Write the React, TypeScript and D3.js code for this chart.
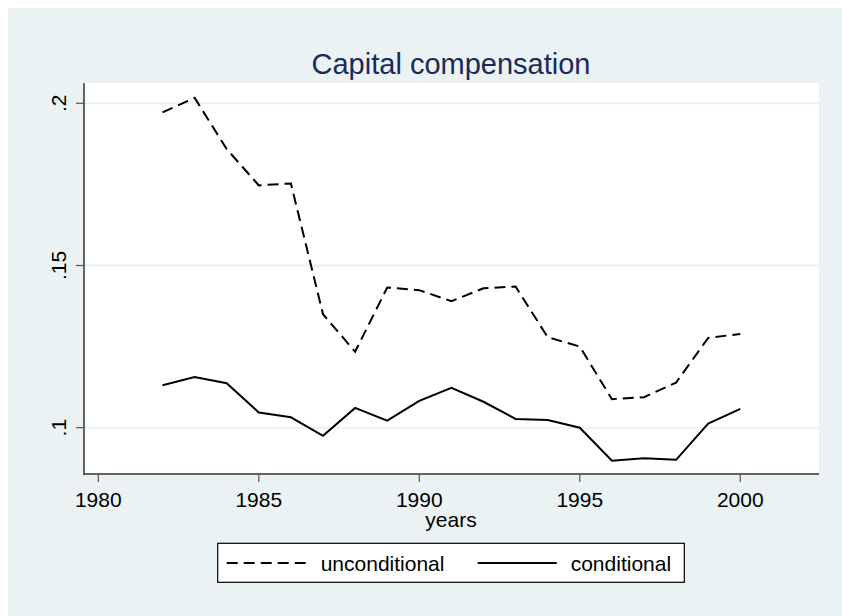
import React from 'react'
import * as d3 from 'd3'

// years on the x axis
const years = [1982, 1983, 1984, 1985, 1986, 1987, 1988, 1989, 1990, 1991,
	1992, 1993, 1994, 1995, 1996, 1997, 1998, 1999, 2000]

const unconditional = [0.1972, 0.2017, 0.1859, 0.1747, 0.1753, 0.1350, 0.1234,
	0.1432, 0.1424, 0.1390, 0.1430, 0.1435, 0.1279, 0.1250, 0.1088, 0.1094,
	0.1139, 0.1277, 0.1289]

const conditional = [0.1131, 0.1156, 0.1137, 0.1047, 0.1032, 0.0975, 0.1061,
	0.1022, 0.1083, 0.1123, 0.1080, 0.1027, 0.1024, 0.1000, 0.0898, 0.0906,
	0.0901, 0.1013, 0.1058]

const xTicks = [1980, 1985, 1990, 1995, 2000]
const yTicks = [0.1, 0.15, 0.2]
const yTickLabels = ['.1', '.15', '.2']

const FONT = 'Arial, "Liberation Sans", Helvetica, sans-serif'

export default function App() {
	const W = 842
	const H = 616
	const plot = { left: 84, right: 819, top: 83, bottom: 474 }

	const x = d3.scaleLinear().domain([1980, 2000]).range([98.3, 740.3])
	const y = d3.scaleLinear().domain([0.1, 0.2]).range([427.7, 103.3])

	const line = d3.line<number>()
		.x((_, i) => x(years[i]))
		.y(d => y(d))

	return (
		<svg width={W} height={H} style={{ position: 'fixed', left: 0, top: 0 }}
			fontFamily={FONT}>
			<rect x={0} y={0} width={W} height={H} fill="#ffffff" />
			<rect x={8} y={8} width={W - 8} height={H - 8} fill="#eaf2f3" />
			<rect x={plot.left} y={plot.top} width={plot.right - plot.left}
				height={plot.bottom - plot.top} fill="#ffffff" />

			{/* gridlines */}
			{yTicks.map(t => (
				<line key={t} x1={plot.left} x2={plot.right} y1={y(t)} y2={y(t)}
					stroke="#eaf2f3" strokeWidth={2} />
			))}

			{/* title */}
			<text x={451} y={74} textAnchor="middle" fontSize={29} fill="#1a2a5a">
				Capital compensation
			</text>

			{/* y axis */}
			<line x1={plot.left} x2={plot.left} y1={plot.top} y2={plot.bottom + 1}
				stroke="#333" strokeWidth={1.5} />
			{yTicks.map((t, i) => (
				<g key={t}>
					<line x1={plot.left - 8} x2={plot.left} y1={y(t)} y2={y(t)}
						stroke="#555" strokeWidth={1.2} />
					<text transform={`translate(66, ${y(t)}) rotate(-90)`}
						textAnchor="middle" fontSize={21} fill="#000">
						{yTickLabels[i]}
					</text>
				</g>
			))}

			{/* x axis */}
			<line x1={plot.left} x2={plot.right} y1={plot.bottom} y2={plot.bottom}
				stroke="#333" strokeWidth={1.5} />
			{xTicks.map(t => (
				<g key={t}>
					<line x1={x(t)} x2={x(t)} y1={plot.bottom} y2={plot.bottom + 8}
						stroke="#555" strokeWidth={1.2} />
					<text x={x(t)} y={507} textAnchor="middle" fontSize={21} fill="#000">
						{t}
					</text>
				</g>
			))}
			<text x={451} y={527} textAnchor="middle" fontSize={21} fill="#000">years</text>

			{/* series */}
			<path d={line(unconditional) || ''} fill="none" stroke="#000"
				strokeWidth={2} strokeDasharray="11,6" />
			<path d={line(conditional) || ''} fill="none" stroke="#000"
				strokeWidth={2} />

			{/* legend */}
			<rect x={217.7} y={543.3} width={466.6} height={39} fill="#ffffff"
				stroke="#000" strokeWidth={1.2} />
			<line x1={226.7} x2={306.7} y1={563} y2={563} stroke="#000"
				strokeWidth={2} strokeDasharray="11,6" />
			<text x={320.7} y={571} fontSize={21} fill="#000">unconditional</text>
			<line x1={477.7} x2={556.7} y1={563} y2={563} stroke="#000" strokeWidth={2} />
			<text x={570.7} y={571} fontSize={21} fill="#000">conditional</text>
		</svg>
	)
}
